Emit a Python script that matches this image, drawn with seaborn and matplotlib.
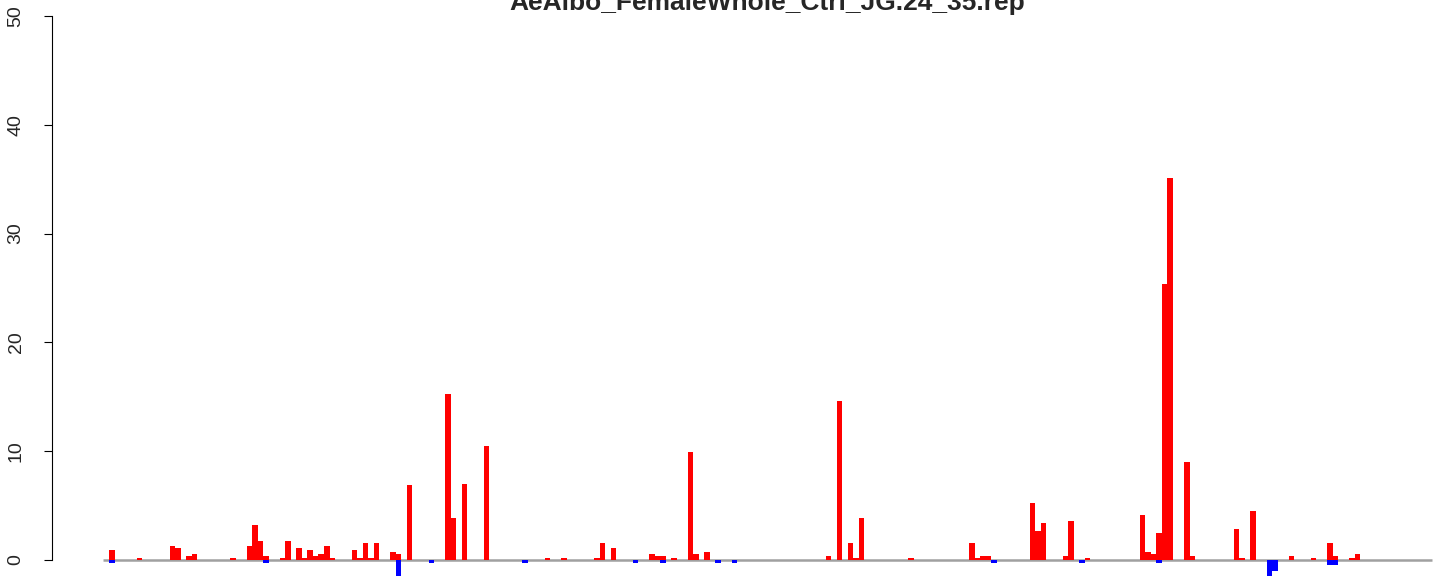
import numpy as np
import pandas as pd
import matplotlib
matplotlib.use("Agg")
import matplotlib.pyplot as plt
import seaborn as sns

sns.set_style("white")
plt.rcParams['font.family'] = ['Liberation Sans', 'DejaVu Sans']

title = "AeAlbo_FemaleWhole_Ctrl_JG.24_35.rep"

# sense (red, above zero) bins and heights
red_pos = [0, 5, 11, 12, 14, 15, 22, 25, 26, 27, 28, 31, 32, 34, 35, 36, 37, 38, 39, 40,
           44, 45, 46, 47, 48, 51, 52, 54, 61, 62, 64, 68, 79, 82, 88, 89, 91, 98, 99, 100,
           102, 105, 106, 108, 130, 132, 134, 135, 136, 145, 156, 157, 158, 159, 167, 168, 169,
           173, 174, 177, 187, 188, 189, 190, 191, 192, 195, 196, 204, 205, 207, 214, 218,
           221, 222, 225, 226]
red_val = [0.92, 0.18, 1.29, 1.1, 0.37, 0.55, 0.18, 1.29, 3.2, 1.75, 0.37, 0.18, 1.75, 1.1, 0.18, 0.92, 0.37, 0.55, 1.29, 0.18,
           0.92, 0.18, 1.57, 0.18, 1.57, 0.74, 0.55, 6.9, 15.3, 3.9, 7.0, 10.5, 0.18, 0.18, 0.18, 1.57, 1.1, 0.55, 0.37, 0.37,
           0.18, 9.9, 0.55, 0.74, 0.37, 14.6, 1.57, 0.18, 3.9, 0.18, 1.57, 0.18, 0.37, 0.37, 5.2, 2.65, 3.4,
           0.37, 3.6, 0.18, 4.1, 0.74, 0.55, 2.5, 25.4, 35.1, 9.0, 0.37, 2.85, 0.18, 4.5, 0.37, 0.18,
           1.57, 0.37, 0.18, 0.55]

# antisense (blue, below zero)
blue_pos = [0, 28, 52, 58, 75, 95, 100, 110, 113, 160, 176, 190, 210, 211, 221, 222]
blue_val = [-0.3, -0.3, -1.6, -0.3, -0.3, -0.3, -0.3, -0.3, -0.3, -0.3, -0.3, -0.3, -1.6, -1.0, -0.45, -0.45]

yticks = [0, 10, 20, 30, 40, 50]

red_df = pd.DataFrame({'bin': red_pos, 'count': red_val})
blue_df = pd.DataFrame({'bin': blue_pos, 'count': blue_val})

fig = plt.figure(figsize=(14.44, 5.76), dpi=100)
ax = fig.add_axes([52 / 1444, 0, 1 - 52 / 1444, 1])

# zero line
ax.plot([-1.6, 239.5], [0, 0], color='#a0a0a0', linewidth=1.8, zorder=1, solid_capstyle='butt')

sns.barplot(data=red_df, x='bin', y='count', native_scale=True, width=1, color='#ff0000',
            saturation=1, errorbar=None, linewidth=0, ax=ax, zorder=2)
sns.barplot(data=blue_df, x='bin', y='count', native_scale=True, width=1, color='#0000ff',
            saturation=1, errorbar=None, linewidth=0, ax=ax, zorder=2)

ax.set_xlim(-10.84, 241.66)
ax.set_ylim(-1.47, 51.47)
ax.set_xlabel('')
ax.set_ylabel('')
ax.set_xticks([])
ax.set_yticks(yticks)
ax.set_yticklabels([str(t) for t in yticks], rotation=90, va='center')
ax.tick_params(axis='y', length=5.8, width=0.8, pad=14, labelsize=14, color='black', left=True)
for s in ['top', 'right', 'bottom']:
    ax.spines[s].set_visible(False)
ax.spines['left'].set_bounds(0, 50)
ax.spines['left'].set_color('black')
ax.spines['left'].set_linewidth(0.8)
ax.patch.set_alpha(0)

fig.text(767 / 1444, 1 - 10 / 576, title, ha='center', va='baseline',
         fontsize=19, fontweight='bold')

fig.savefig('out.png', dpi=100)
